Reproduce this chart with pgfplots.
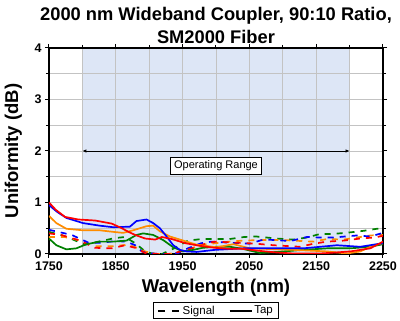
\documentclass[border=0pt]{standalone}
\usepackage{fontspec}
\setmainfont{Liberation Sans}
\usepackage{pgfplots}
\pgfplotsset{compat=1.18}
\usetikzlibrary{arrows.meta}

\definecolor{opband}{RGB}{221,230,246}
\definecolor{gridgray}{RGB}{195,195,195}
\definecolor{cRed}{RGB}{255,0,0}
\definecolor{cBlue}{RGB}{0,0,255}
\definecolor{cOrange}{RGB}{255,140,0}
\definecolor{cGreen}{RGB}{0,128,0}

% Tap port uniformity (solid)
\pgfplotstableread{
x y
1750 1.00
1760 0.86
1774 0.72
1794 0.67
1819 0.65
1844 0.59
1859 0.50
1869 0.43
1879 0.37
1894 0.30
1909 0.28
1919 0.33
1934 0.29
1954 0.21
1975 0.16
1998 0.12
2020 0.10
2040 0.10
2066 0.06
2090 0.03
2116 0.01
2156 0.01
2180 0.03
2201 0.05
2231 0.11
2250 0.24
}\tapRed
\pgfplotstableread{
x y
1750 0.95
1762 0.82
1776 0.70
1801 0.60
1826 0.55
1846 0.52
1871 0.53
1881 0.64
1896 0.67
1906 0.60
1916 0.50
1926 0.34
1936 0.17
1946 0.08
1956 0.05
1971 0.04
1998 0.08
2041 0.11
2091 0.11
2131 0.11
2156 0.14
2181 0.17
2216 0.14
2250 0.21
}\tapBlue
\pgfplotstableread{
x y
1750 0.74
1761 0.60
1776 0.49
1801 0.46
1826 0.46
1846 0.43
1861 0.41
1876 0.46
1896 0.54
1906 0.55
1916 0.44
1931 0.34
1951 0.26
1971 0.18
2001 0.13
2026 0.19
2051 0.11
2116 0.08
2166 0.05
2196 0.01
2216 0.05
2236 0.17
2250 0.21
}\tapOrange
\pgfplotstableread{
x y
1750 0.30
1761 0.17
1776 0.09
1791 0.11
1806 0.19
1826 0.24
1846 0.24
1866 0.26
1881 0.37
1891 0.40
1906 0.37
1921 0.27
1936 0.13
1951 0.05
1966 0.08
1980 0.12
2000 0.14
2021 0.14
2040 0.10
2066 0.02
2091 0.04
2131 0.08
2166 0.11
2201 0.11
2231 0.14
2250 0.19
}\tapGreen

% Signal port uniformity (dashed)
\pgfplotstableread{
x y
1750 0.40
1768 0.37
1794 0.27
1819 0.12
1844 0.11
1864 0.17
1879 0.12
1894 0.02
1914 0.00
1934 0.00
1944 0.04
1964 0.11
1984 0.20
1998 0.24
2030 0.22
2060 0.20
2086 0.17
2126 0.14
2146 0.20
2166 0.24
2191 0.26
2216 0.30
2236 0.32
2250 0.35
}\sigRed
\pgfplotstableread{
x y
1750 0.47
1784 0.37
1809 0.22
1829 0.22
1849 0.25
1866 0.24
1879 0.17
1889 0.05
1899 0.01
1930 0.00
1944 0.02
1958 0.11
1978 0.21
1993 0.24
2020 0.22
2050 0.20
2071 0.28
2091 0.27
2111 0.25
2136 0.33
2156 0.32
2176 0.32
2211 0.36
2231 0.34
2250 0.41
}\sigBlue
\pgfplotstableread{
x y
1750 0.33
1773 0.33
1794 0.27
1819 0.15
1844 0.15
1869 0.18
1884 0.11
1894 0.05
1909 0.00
1929 0.00
1944 0.04
1964 0.11
1978 0.18
1993 0.20
2020 0.24
2040 0.26
2066 0.27
2101 0.27
2146 0.24
2166 0.29
2191 0.28
2231 0.36
2250 0.37
}\sigOrange
\pgfplotstableread{
x y
1750 0.43
1770 0.36
1786 0.28
1804 0.18
1824 0.24
1849 0.31
1864 0.33
1879 0.21
1894 0.05
1904 0.01
1919 0.00
1939 0.12
1958 0.26
1978 0.29
1993 0.29
2020 0.29
2042 0.33
2060 0.34
2091 0.30
2116 0.28
2136 0.32
2156 0.39
2176 0.39
2201 0.42
2221 0.45
2241 0.49
2250 0.49
}\sigGreen

\begin{document}
\begin{tikzpicture}
\begin{axis}[
  name=ax,
  set layers=standard,
  scale only axis,
  width=334pt, height=206pt,
  xmin=1750, xmax=2250, ymin=0, ymax=4,
  xtick={1750,1850,...,2250},
  minor xtick={1800,1900,...,2200},
  ytick={0,1,2,3,4},
  minor ytick={0.5,1.5,2.5,3.5},
  grid=both,
  major grid style={gridgray, line width=0.9pt},
  minor grid style={gridgray, line width=0.9pt},
  tick align=outside,
  major tick length=4pt,
  minor tick length=3pt,
  every tick/.style={black, line width=1pt},
  axis line style={line width=1.8pt},
  /pgf/number format/assume math mode=true,
  /pgf/number format/1000 sep={},
  ticklabel style={font=\fontsize{12.5}{14}\selectfont\bfseries},
  title={2000 nm Wideband Coupler, 90:10 Ratio,\\SM2000 Fiber},
  title style={font=\fontsize{18.3}{23}\selectfont\bfseries, align=center,
    at={(axis description cs:0.5,1)}, anchor=south, inner sep=0pt, yshift=-2pt},
  xlabel={Wavelength (nm)},
  xlabel style={font=\fontsize{18.5}{20}\selectfont\bfseries,
    at={(axis description cs:0.5,0)}, anchor=base, yshift=-39pt},
  ylabel={Uniformity (dB)},
  ylabel style={font=\fontsize{18.5}{20}\selectfont\bfseries,
    at={(axis description cs:0,0.5)}, anchor=base, yshift=31pt},
  legend style={at={(axis description cs:0.5,-0.235)}, anchor=north,
    draw=black, line width=0.8pt, font=\fontsize{11.5}{13}\selectfont,
    inner xsep=4pt, inner ysep=1pt},
  legend columns=2,
  legend image code/.code={\draw[#1] (0pt,0pt) -- (22pt,0pt);},
  every axis plot/.append style={line width=1.7pt},
]
% operating band
\addplot[draw=none, fill=opband, forget plot, on layer=axis background]
  coordinates {(1800,0) (1800,4) (2200,4) (2200,0)} \closedcycle;

\addplot[cGreen, dash pattern=on 6pt off 6pt, forget plot] table {\sigGreen};
\addplot[cOrange, dash pattern=on 6pt off 6pt, forget plot] table {\sigOrange};
\addplot[cBlue, dash pattern=on 6pt off 6pt, forget plot] table {\sigBlue};
\addplot[cRed, dash pattern=on 6pt off 6pt, forget plot] table {\sigRed};

\addplot[cGreen, forget plot] table {\tapGreen};
\addplot[cOrange, forget plot] table {\tapOrange};
\addplot[cBlue, forget plot] table {\tapBlue};
\addplot[cRed, forget plot] table {\tapRed};

\addlegendimage{black, line width=1.6pt, dash pattern=on 7pt off 7pt}
\addlegendentry{Signal\rule{12pt}{0pt}}
\addlegendimage{black, line width=1.6pt}
\addlegendentry{Tap}

\draw[{Latex[length=4pt,width=3.5pt]}-{Latex[length=4pt,width=3.5pt]}, line width=0.9pt]
  (axis cs:1800,2) -- (axis cs:2200,2);
\node[draw=black, fill=white, line width=0.8pt, inner xsep=4pt, inner ysep=3.5pt,
  font=\fontsize{11}{13}\selectfont] at (axis cs:2000,1.71) {Operating Range};
\end{axis}
\pgfresetboundingbox
\path ([xshift=-49pt,yshift=-67pt]ax.south west) rectangle ([xshift=17pt,yshift=48pt]ax.north east);
\end{tikzpicture}
\end{document}
